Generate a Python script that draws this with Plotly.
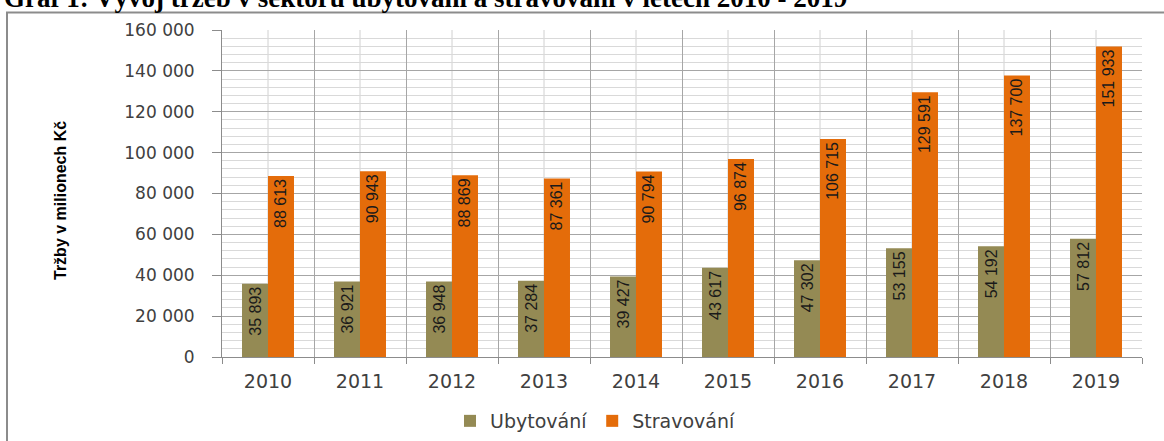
import plotly.graph_objects as go

years = ["2010", "2011", "2012", "2013", "2014", "2015", "2016", "2017", "2018", "2019"]
ubytovani = [35893, 36921, 36948, 37284, 39427, 43617, 47302, 53155, 54192, 57812]
stravovani = [88613, 90943, 88869, 87361, 90794, 96874, 106715, 129591, 137700, 151933]
series_names = ["Ubytování", "Stravování"]
y_title = "Tržby v milionech Kč"
chart_title = "Graf 1: Vývoj tržeb v sektoru ubytování a stravování v letech 2010 - 2019"

W, H = 1164, 441
L, R, T, B = 222, 22, 30, 84
pw, ph = W - L - R, H - T - B

def px(x):
    return (x - L) / pw

def py(y):
    return (H - B - y) / ph

label_font = dict(family="Liberation Sans Narrow, Arial Narrow, sans-serif", size=16, color="#1a1a1a")
tick_font = dict(family="DejaVu Sans, Verdana, sans-serif", size=17, color="#404040")

fig = go.Figure()
fig.add_trace(go.Bar(
    x=years, y=ubytovani, name=series_names[0],
    marker=dict(color="#948A54", line=dict(width=0)),
    texttemplate="%{y:,}", textposition="inside",
    insidetextanchor="end", textangle=-90, textfont=label_font,
    constraintext="none",
))
fig.add_trace(go.Bar(
    x=years, y=stravovani, name=series_names[1],
    marker=dict(color="#E46C0A", line=dict(width=0)),
    texttemplate="%{y:,}", textposition="inside",
    insidetextanchor="end", textangle=-90, textfont=label_font,
    constraintext="none",
))

shapes = []
for i in range(len(years)):
    shapes.append(dict(type="line", xref="x", yref="paper", x0=i, x1=i, y0=0, y1=1,
                       line=dict(color="#d0d0d0", width=1), layer="below"))
shapes.append(dict(type="rect", xref="paper", yref="paper",
                   x0=px(7), x1=px(1180), y0=py(470), y1=py(12.5),
                   line=dict(color="#8c8c8c", width=2), fillcolor="rgba(0,0,0,0)", layer="below"))

fig.update_layout(
    width=W, height=H,
    margin=dict(l=L, r=R, t=T, b=B, autoexpand=False),
    paper_bgcolor="white", plot_bgcolor="white",
    barmode="group", bargap=0.435, bargroupgap=0,
    separators=", ",
    showlegend=True,
    legend=dict(orientation="h", x=px(595), xanchor="center", y=py(421), yanchor="middle",
                font=dict(family="DejaVu Sans, Verdana, sans-serif", size=19, color="#404040"),
                traceorder="normal"),
    shapes=shapes,
    annotations=[
        dict(text=y_title, xref="paper", yref="paper", x=px(60), y=py(201),
             xanchor="center", yanchor="middle", textangle=-90, showarrow=False,
             font=dict(family="Liberation Sans Narrow, Arial Narrow, sans-serif", size=16, color="#000000", weight="bold")),
        dict(text="<b>" + chart_title + "</b>", xref="paper", yref="paper", x=px(2), y=py(15),
             xanchor="left", yanchor="bottom", showarrow=False,
             font=dict(family="Liberation Serif, Times New Roman, serif", size=27, color="#000000")),
    ],
)

fig.update_xaxes(
    type="category", range=[-0.5, len(years) - 0.5],
    tickson="boundaries", showgrid=True, gridcolor="#a6a6a6", gridwidth=1,
    showline=True, linecolor="#8c8c8c", linewidth=1, ticks="outside", ticklen=6, tickcolor="#8c8c8c",
    tickfont=dict(family="DejaVu Sans, Verdana, sans-serif", size=19, color="#404040"),
    ticklabelstandoff=7, tickangle=0, zeroline=False,
)
fig.update_yaxes(
    range=[0, 160000], dtick=20000, tick0=0, tickformat=",d",
    showgrid=True, gridcolor="#a6a6a6", gridwidth=1,
    minor=dict(dtick=4000, showgrid=True, gridcolor="#d9d9d9", gridwidth=1),
    showline=True, linecolor="#8c8c8c", linewidth=1, ticks="outside", ticklen=9, tickcolor="#8c8c8c",
    ticklabelstandoff=14, tickfont=tick_font, zeroline=False,
)

fig.write_html("out.html", config={"displayModeBar": False},
               post_script="document.body.style.margin='0';document.body.style.overflow='hidden';")
